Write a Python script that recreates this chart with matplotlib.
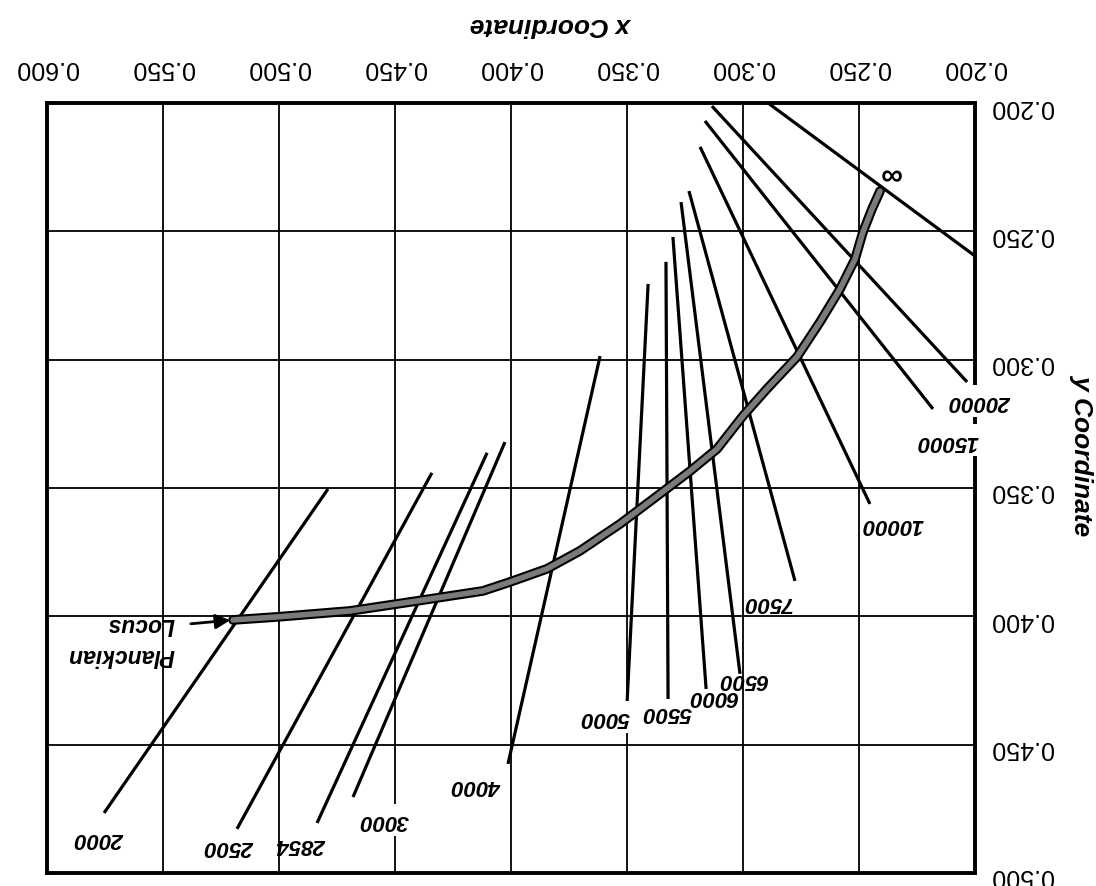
import matplotlib
matplotlib.use("Agg")
import matplotlib.pyplot as plt

plt.rcParams['font.family'] = ['Liberation Sans', 'DejaVu Sans']

# planckian locus (2000K end -> infinity end)
locus_x = [0.5198, 0.5004, 0.4694, 0.4405, 0.4121, 0.4004, 0.3845, 0.3703, 0.3530,
           0.3358, 0.3228, 0.3112, 0.3000, 0.2897, 0.2767, 0.2668, 0.2582, 0.2517,
           0.2483, 0.2444, 0.2409]
locus_y = [0.4014, 0.4002, 0.3979, 0.3940, 0.3901, 0.3866, 0.3815, 0.3745, 0.3640,
           0.3523, 0.3434, 0.3348, 0.3219, 0.3114, 0.2989, 0.2853, 0.2725, 0.2608,
           0.2503, 0.2413, 0.2343]

# isotemperature lines: colour temperature, end points, label position
temps = ['2000', '2500', '2854', '3000', '4000', '5000', '5500', '6000',
         '6500', '7500', '10000', '15000', '20000', '\u221e']
iso_x0 = [0.5754, 0.5181, 0.4836, 0.4681, 0.4013, 0.3500, 0.3323, 0.3159,
          0.3013, 0.2776, 0.2453, 0.2181, 0.2034, 0.2000]
iso_y0 = [0.4766, 0.4828, 0.4805, 0.4704, 0.4575, 0.4341, 0.4322, 0.4283,
          0.4224, 0.3862, 0.3562, 0.3192, 0.3087, 0.2596]
iso_x1 = [0.4789, 0.4341, 0.4103, 0.4026, 0.3616, 0.3409, 0.3332, 0.3302,
          0.3267, 0.3233, 0.3185, 0.3164, 0.3134, 0.2892]
iso_y1 = [0.3504, 0.3441, 0.3363, 0.3321, 0.2986, 0.2705, 0.2619, 0.2522,
          0.2386, 0.2343, 0.2171, 0.2070, 0.2012, 0.2000]
label_x = [0.5772, 0.5211, 0.4901, 0.4547, 0.4147, 0.3595, 0.3328, 0.3134,
           0.3004, 0.2897, 0.2353, 0.2116, 0.1978, 0.2366]
label_y = [0.4863, 0.4894, 0.4887, 0.4793, 0.4657, 0.4392, 0.4369, 0.4310,
           0.4244, 0.3944, 0.3640, 0.3313, 0.3161, 0.2269]

x_ticks = [0.200, 0.250, 0.300, 0.350, 0.400, 0.450, 0.500, 0.550, 0.600]
y_ticks = [0.200, 0.250, 0.300, 0.350, 0.400, 0.450, 0.500]

fig = plt.figure(figsize=(10.96, 8.87), dpi=100)
ax = fig.add_axes([47 / 1096, 1 - 874 / 887, 928 / 1096, 770 / 887])

# whole chart is printed upside down
ax.set_xlim(0.6, 0.2)
ax.set_ylim(0.5, 0.2)
ax.set_xticks(x_ticks)
ax.set_yticks(y_ticks)
ax.set_xticklabels(['%.3f' % v for v in x_ticks])
ax.set_yticklabels(['%.3f' % v for v in y_ticks])
ax.xaxis.tick_top()
ax.yaxis.tick_right()
ax.tick_params(axis='x', length=0, pad=17, labelsize=18, labelrotation=180)
ax.tick_params(axis='y', length=0, pad=11, labelsize=18, labelrotation=180)
ax.grid(True, color='k', lw=1.3)
ax.set_axisbelow(True)
for s in ax.spines.values():
    s.set_linewidth(2.8)

for i in range(len(temps)):
    ax.plot([iso_x0[i], iso_x1[i]], [iso_y0[i], iso_y1[i]], color='k', lw=2.3,
            solid_capstyle='butt')

ax.plot(locus_x, locus_y, color='k', lw=7, solid_capstyle='round', zorder=4)
ax.plot(locus_x, locus_y, color='#7a7a7a', lw=4, solid_capstyle='round', zorder=5)

masked = {'3000', '5000', '15000', '20000'}
for t, lx, ly in zip(temps, label_x, label_y):
    bb = dict(fc='white', ec='none', pad=4) if t in masked else None
    fs = 22 if t == '\u221e' else 16
    ax.text(lx, ly, t, rotation=180, ha='center', va='center', fontsize=fs,
            fontweight='bold', fontstyle='italic', bbox=bb, clip_on=False, zorder=6)

ax.text(0.5680, 0.4090, 'Planckian\nLocus', rotation=180, ha='center', va='center',
        fontsize=16.5, fontweight='bold', fontstyle='italic', multialignment='left',
        linespacing=1.45, zorder=6)
ax.annotate('', xy=(locus_x[0], locus_y[0]), xytext=(0.5392, 0.4030),
            arrowprops=dict(arrowstyle='-|>', color='k', lw=2, mutation_scale=22),
            zorder=6)

fig.text(553 / 1096, 1 - 25 / 887, 'x Coordinate', rotation=180, ha='center',
         va='center', fontsize=19, fontweight='bold', fontstyle='italic')
fig.text(1082 / 1096, 1 - 455 / 887, 'y Coordinate', rotation=270, ha='center',
         va='center', fontsize=19, fontweight='bold', fontstyle='italic')

fig.savefig('out.png', dpi=100)
